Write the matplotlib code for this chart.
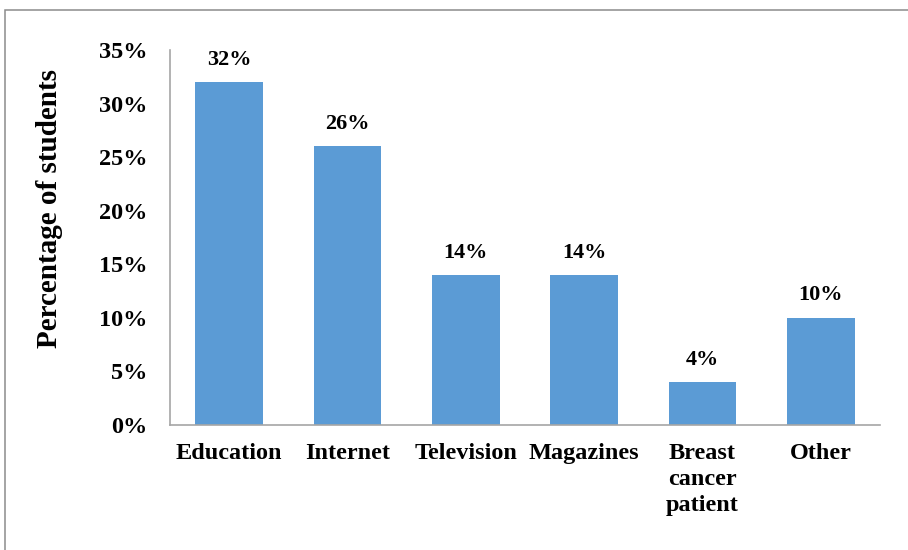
import matplotlib.pyplot as plt
from matplotlib.patches import Rectangle
from matplotlib.ticker import FuncFormatter

# data
categories = ["Education", "Internet", "Television", "Magazines",
              "Breast\ncancer\npatient", "Other"]
percentages = [32, 26, 14, 14, 4, 10]
y_ticks = [0, 5, 10, 15, 20, 25, 30, 35]

plt.rcParams["font.family"] = ["Liberation Serif", "DejaVu Serif"]
plt.rcParams["font.weight"] = "bold"

W, H = 908, 550
fig = plt.figure(figsize=(W / 100, H / 100), dpi=100)

# grey frame of the embedded chart (only left/top edges are visible)
fig.patches.append(Rectangle((5 / W, -0.1), 1.2, 1 - 10 / H + 0.1,
                             transform=fig.transFigure, fill=False,
                             edgecolor="#8c8c8c", linewidth=1.1))

ax = fig.add_axes([170 / W, 1 - 425 / H, 710 / W, 375 / H])

x = range(len(categories))
bars = ax.bar(x, percentages, width=0.57, color="#5b9bd5")

# value labels above the bars
for rect, val in zip(bars, percentages):
    ax.annotate(f"{val}%", (rect.get_x() + rect.get_width() / 2, val),
                xytext=(0, 9), textcoords="offset points",
                ha="center", va="bottom", fontsize=16, fontweight="bold")

ax.set_xlim(-0.5, len(categories) - 0.5)
ax.set_ylim(0, 35)
ax.set_yticks(y_ticks)
ax.yaxis.set_major_formatter(FuncFormatter(lambda v, _: f"{v:.0f}%"))
ax.set_xticks(list(x))
ax.set_xticklabels(categories, linespacing=1.3)

ax.tick_params(axis="both", length=0, labelsize=17.5)
ax.tick_params(axis="y", pad=16)
ax.tick_params(axis="x", pad=13)
for lbl in ax.get_xticklabels() + ax.get_yticklabels():
    lbl.set_fontweight("bold")

for side in ("top", "right"):
    ax.spines[side].set_visible(False)
for side in ("left", "bottom"):
    ax.spines[side].set_color("#a6a6a6")
    ax.spines[side].set_linewidth(1.2)

fig.text(50 / W, 1 - 209 / H, "Percentage of students", rotation=90,
         ha="center", va="center", fontsize=21, fontweight="bold")

fig.savefig("out.png", dpi=100)
